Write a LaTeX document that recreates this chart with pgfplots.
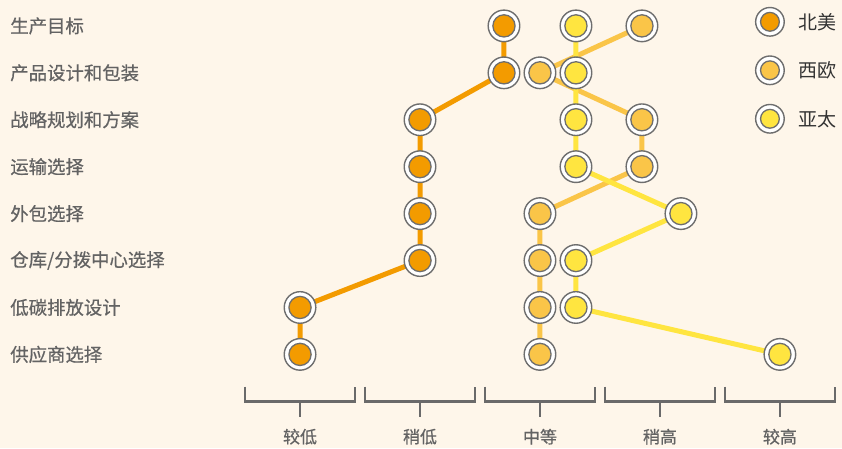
\documentclass[border=0pt]{standalone}
\usepackage{fontspec}
\setmainfont{Noto Sans CJK SC}
\newfontfamily\labfont[FakeBold=0.6]{Noto Sans CJK SC}
\usepackage{pgfplots}
\usepackage{pgfplotstable}
\pgfplotsset{compat=1.18}
\definecolor{bg}{HTML}{FEF6EA}
\definecolor{na}{HTML}{F39B00}
\definecolor{we}{HTML}{FAC548}
\definecolor{ap}{HTML}{FFE540}
\definecolor{ring}{HTML}{6E6E6E}
\definecolor{labgray}{HTML}{636363}
\definecolor{brk}{HTML}{6A6A6A}
\definecolor{legtext}{HTML}{333333}

\pgfplotstableread{
x y
2.7 7
2.7 6
2 5
2 4
2 3
2 2
1 1
1 0
}\na
\pgfplotstableread{
x y
3.85 7
3.0 6
3.85 5
3.85 4
3.0 3
3.0 2
3.0 1
3.0 0
}\we
\pgfplotstableread{
x y
3.3 7
3.3 6
3.3 5
3.3 4
4.175 3
3.3 2
3.3 1
5 0
}\ap

\begin{document}
\begin{tikzpicture}
\begin{axis}[
  width=842pt, height=448pt, scale only axis,
  xmin=-1.5, xmax=5.5167, ymin=-1.994, ymax=7.5496,
  axis line style={draw=none}, major tick length=0pt,
  axis background/.style={fill=bg},
  clip=false,
  xtick={1,2,3,4,5}, xticklabels={较低,稍低,中等,稍高,较高},
  ytick={0,1,2,3,4,5,6,7},
  yticklabels={供应商选择,低碳排放设计,仓库/分拨中心选择,外包选择,运输选择,战略规划和方案,产品设计和包装,生产目标},
  xticklabel style={anchor=center, inner sep=0pt, yshift=11.3pt, font=\labfont\fontsize{17}{20}\selectfont, text=labgray},
  yticklabel style={anchor=west, inner sep=0pt, xshift=10pt, font=\labfont\fontsize{18.4}{21}\selectfont, text=labgray},
  legend style={draw=none, fill=none, inner sep=0pt, outer sep=0pt,
    row sep=18.5pt, column sep=14pt,
    nodes={inner sep=0pt, anchor=west},
    font=\fontsize{19}{22}\selectfont, text=legtext,
    at={(axis description cs:0.8967,0.985)}, anchor=north west},
  legend cell align=left,
]
% brackets
\pgfplotsinvokeforeach{1,2,3,4,5}{
  \draw[brk, line width=2.5pt] (axis cs:#1-0.458,-0.689) -- (axis cs:#1-0.458,-1.008) -- (axis cs:#1+0.458,-1.008) -- (axis cs:#1+0.458,-0.689);
  \draw[brk, line width=2.5pt] (axis cs:#1,-1.008) -- (axis cs:#1,-1.340);
}
% lines
\addplot[na, line width=5pt, forget plot] table[x=x,y=y] {\na};
\addplot[we, line width=5pt, forget plot] table[x=x,y=y] {\we};
\addplot[ap, line width=5pt, forget plot] table[x=x,y=y] {\ap};
% dots
\addplot[only marks, mark=*, mark size=15.8pt, mark options={fill=white, draw=ring, line width=1.4pt}, forget plot] table[x=x,y=y] {\na};
\addplot[only marks, mark=*, mark size=11.1pt, mark options={fill=na, draw=ring, line width=1.3pt}, forget plot] table[x=x,y=y] {\na};
\addplot[only marks, mark=*, mark size=15.8pt, mark options={fill=white, draw=ring, line width=1.4pt}, forget plot] table[x=x,y=y] {\we};
\addplot[only marks, mark=*, mark size=11.1pt, mark options={fill=we, draw=ring, line width=1.3pt}, forget plot] table[x=x,y=y] {\we};
\addplot[only marks, mark=*, mark size=15.8pt, mark options={fill=white, draw=ring, line width=1.4pt}, forget plot] table[x=x,y=y] {\ap};
\addplot[only marks, mark=*, mark size=11.1pt, mark options={fill=ap, draw=ring, line width=1.3pt}, forget plot] table[x=x,y=y] {\ap};
% legend
\addlegendimage{legend image code/.code={\draw[ring, line width=1.4pt, fill=white] (0pt,0pt) circle (14.3pt); \draw[ring, line width=1.3pt, fill=na] (0pt,0pt) circle (9.4pt);}}
\addlegendentry{北美}
\addlegendimage{legend image code/.code={\draw[ring, line width=1.4pt, fill=white] (0pt,0pt) circle (14.3pt); \draw[ring, line width=1.3pt, fill=we] (0pt,0pt) circle (9.4pt);}}
\addlegendentry{西欧}
\addlegendimage{legend image code/.code={\draw[ring, line width=1.4pt, fill=white] (0pt,0pt) circle (14.3pt); \draw[ring, line width=1.3pt, fill=ap] (0pt,0pt) circle (9.4pt);}}
\addlegendentry{亚太}
\end{axis}
\end{tikzpicture}
\end{document}
